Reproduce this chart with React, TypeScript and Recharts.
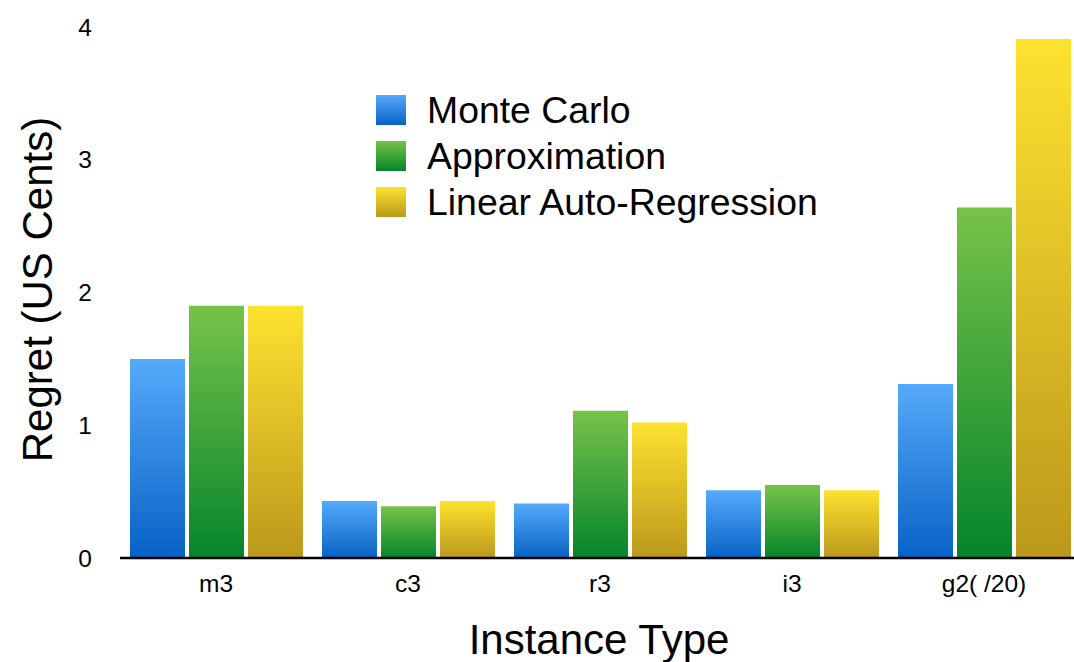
import React from "react";
import { Bar, BarChart, Label, Legend, XAxis, YAxis } from "recharts";

const instanceTypes = ["m3", "c3", "r3", "i3", "g2( /20)"];
const monteCarlo = [1.5, 0.43, 0.41, 0.51, 1.31];
const approximation = [1.9, 0.39, 1.11, 0.55, 2.64];
const linearAutoRegression = [1.9, 0.43, 1.02, 0.51, 3.91];
const yTicks = [0, 1, 2, 3, 4];

const FONT = '"Liberation Sans", Arial, Helvetica, sans-serif';

const SERIES = [
  { key: "mc", label: "Monte Carlo", top: "#55aafa", bottom: "#0862c6" },
  { key: "approx", label: "Approximation", top: "#77c349", bottom: "#04852a" },
  { key: "lar", label: "Linear Auto-Regression", top: "#fde22f", bottom: "#bb981c" },
];

const chartData = instanceTypes.map((name, i) => ({
  name,
  mc: monteCarlo[i],
  approx: approximation[i],
  lar: linearAutoRegression[i],
}));

function LegendBox() {
  return (
    <div style={{ fontFamily: FONT, fontSize: 37.4, color: "#000" }}>
      {SERIES.map((s) => (
        <div
          key={s.key}
          style={{ display: "flex", alignItems: "center", height: 46, lineHeight: "46px", whiteSpace: "nowrap" }}
        >
          <span
            style={{
              display: "inline-block",
              width: 30,
              height: 30,
              marginRight: 21,
              background: `linear-gradient(to bottom, ${s.top}, ${s.bottom})`,
            }}
          />
          {s.label}
        </div>
      ))}
    </div>
  );
}

export default function App() {
  return (
    <div
      style={{
        position: "absolute",
        top: 0,
        left: 0,
        width: 1074,
        height: 662,
        overflow: "hidden",
        background: "#fff",
        fontFamily: FONT,
      }}
    >
      <BarChart
        width={1090}
        height={662}
        data={chartData}
        margin={{ top: 27, right: 10, bottom: 0, left: 0 }}
        barCategoryGap={10}
        barGap={4}
      >
        <defs>
          {SERIES.map((s) => (
            <linearGradient key={s.key} id={`grad-${s.key}`} x1="0" y1="0" x2="0" y2="1">
              <stop offset="0%" stopColor={s.top} />
              <stop offset="100%" stopColor={s.bottom} />
            </linearGradient>
          ))}
        </defs>
        <XAxis
          dataKey="name"
          height={104}
          tickLine={false}
          tickSize={0}
          tickMargin={17}
          axisLine={{ stroke: "#000", strokeWidth: 2.5 }}
          tick={{ fontSize: 24.5, fill: "#000", fontFamily: FONT }}
        >
          <Label
            content={({ viewBox }: any) => (
              <text
                x={viewBox.x + viewBox.width / 2 - 1}
                y={654}
                textAnchor="middle"
                fontSize={42}
                fontFamily={FONT}
                fill="#000"
              >
                Instance Type
              </text>
            )}
          />
        </XAxis>
        <YAxis
          width={120}
          domain={[0, 4]}
          ticks={yTicks}
          axisLine={false}
          tickLine={false}
          tickSize={0}
          tickMargin={28}
          tick={{ fontSize: 24.5, fill: "#000", fontFamily: FONT }}
        >
          <Label
            content={({ viewBox }: any) => {
              const cx = 52;
              const cy = viewBox.y + viewBox.height / 2 - 3;
              return (
                <text
                  x={cx}
                  y={cy}
                  transform={`rotate(-90, ${cx}, ${cy})`}
                  textAnchor="middle"
                  fontSize={42}
                  fontFamily={FONT}
                  fill="#000"
                >
                  Regret (US Cents)
                </text>
              );
            }}
          />
        </YAxis>
        <Legend
          layout="vertical"
          align="center"
          verticalAlign="middle"
          content={() => <LegendBox />}
          wrapperStyle={{ top: 87, left: 376, width: "auto" }}
        />
        {SERIES.map((s) => (
          <Bar
            key={s.key}
            dataKey={s.key}
            name={s.label}
            fill={`url(#grad-${s.key})`}
            isAnimationActive={false}
          />
        ))}
      </BarChart>
    </div>
  );
}
